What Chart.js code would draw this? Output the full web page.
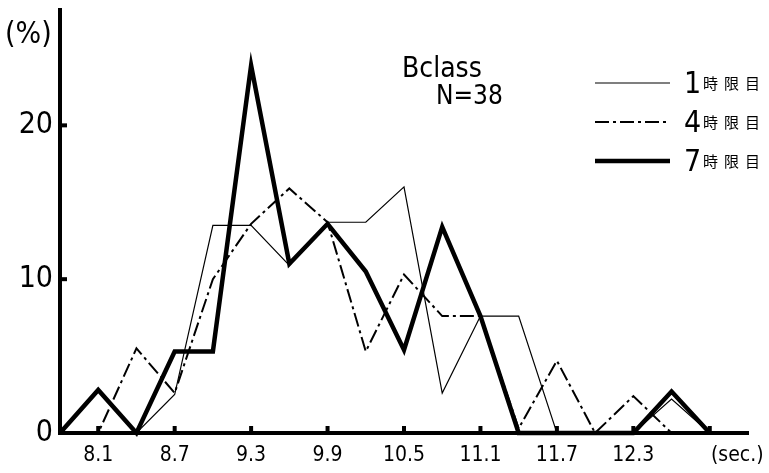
<!DOCTYPE html>
<html>
<head>
<meta charset="utf-8">
<script src="https://cdn.jsdelivr.net/npm/chart.js@4.4.1/dist/chart.umd.min.js"></script>
<style>
  html, body { margin: 0; padding: 0; background: #fff; }
  #wrap { width: 769px; height: 473px; }
</style>
</head>
<body>
<div id="wrap"><canvas id="chart"></canvas></div>
<script>
// seconds (class midpoints, every 0.3 s)
const seconds = [7.8, 8.1, 8.4, 8.7, 9.0, 9.3, 9.6, 9.9, 10.2, 10.5, 10.8, 11.1, 11.4, 11.7, 12.0, 12.3, 12.6, 12.9];

// percent of students per class
const period1 = [0, 0, 0, 2.5, 13.5, 13.5, 10.9, 13.7, 13.7, 16.0, 2.6, 7.6, 7.6, 0, 0, 0, 2.2, 0];
const period4 = [0, 0, 5.5, 2.6, 10.0, 13.6, 15.9, 13.7, 5.3, 10.3, 7.6, 7.6, 0.3, 4.7, 0, 2.4, 0, 0];
const period7 = [0, 2.8, 0, 5.3, 5.3, 23.9, 11.0, 13.6, 10.5, 5.4, 13.4, 7.6, 0, 0, 0, 0, 2.7, 0];

const seriesNames = ['1', '4', '7'];
const xTicks = [8.1, 8.7, 9.3, 9.9, 10.5, 11.1, 11.7, 12.3, 12.9];
const xTickLabels = ['8.1', '8.7', '9.3', '9.9', '10.5', '11.1', '11.7', '12.3', ''];
const yTicks = [0, 10, 20];

const FONT = "'DejaVu Sans Condensed', 'Liberation Sans Narrow', 'Liberation Sans', sans-serif";
const CJK = "'Noto Sans CJK JP', sans-serif";

const styles = [
  { width: 1.2, dash: [] },
  { width: 2, dash: [14, 4, 3, 4] },
  { width: 4.5, dash: [] },
];

function points(values) {
  return seconds.map((s, i) => ({ x: s, y: values[i] }));
}

const datasets = [period1, period4, period7].map((vals, i) => ({
  label: seriesNames[i],
  data: points(vals),
  borderColor: '#000',
  borderWidth: styles[i].width,
  borderDash: styles[i].dash,
  borderJoinStyle: 'miter',
  pointRadius: 0,
  tension: 0,
  clip: false,
}));

const decorations = {
  id: 'decorations',
  afterDraw(chart) {
    const ctx = chart.ctx;
    const xs = chart.scales.x;
    const ys = chart.scales.y;
    const y0 = ys.getPixelForValue(0);
    const x0 = xs.getPixelForValue(7.8);
    ctx.save();
    ctx.fillStyle = '#000';
    ctx.strokeStyle = '#000';

    // small inward tick marks
    xTicks.forEach(v => {
      const px = xs.getPixelForValue(v);
      ctx.fillRect(px - 2, y0 - 7, 4, 7);
    });
    yTicks.slice(1).forEach(v => {
      const py = ys.getPixelForValue(v);
      ctx.fillRect(x0, py - 2, 7, 4);
    });

    // axis units
    ctx.textBaseline = 'middle';
    ctx.textAlign = 'left';
    ctx.font = '30px ' + FONT;
    ctx.fillText('(%)', 5, 35);
    ctx.font = '21px ' + FONT;
    ctx.fillText('(sec.)', 711, 456);

    // title
    ctx.font = '28px ' + FONT;
    ctx.fillText('Bclass', 402, 70);
    ctx.font = '26px ' + FONT;
    ctx.fillText('N=38', 436, 97);

    // legend
    const rows = [83, 122, 161];
    rows.forEach((ry, i) => {
      ctx.beginPath();
      ctx.lineWidth = styles[i].width;
      ctx.setLineDash(styles[i].dash);
      ctx.moveTo(595, ry);
      ctx.lineTo(670, ry);
      ctx.stroke();
      ctx.setLineDash([]);
      ctx.font = '30px ' + FONT;
      ctx.textAlign = 'left';
      ctx.fillText(seriesNames[i], 684, ry + 2);
      ctx.font = '15px ' + CJK;
      ['時', '限', '目'].forEach((c, k) => {
        ctx.fillText(c, 703 + k * 21, ry);
      });
    });
    ctx.restore();
  }
};

new Chart(document.getElementById('chart'), {
  type: 'line',
  data: { datasets },
  options: {
    responsive: true,
    maintainAspectRatio: false,
    animation: false,
    layout: { padding: { top: 10, right: 21, left: 0, bottom: 0 } },
    plugins: { legend: { display: false }, tooltip: { enabled: false } },
    scales: {
      x: {
        type: 'linear',
        min: 7.8,
        max: 13.2,
        afterBuildTicks: s => { s.ticks = xTicks.map(v => ({ value: v })); },
        afterFit: s => { s.height = 40; s.paddingLeft = 0; s.paddingRight = 0; },
        grid: { display: false, drawTicks: false },
        border: { display: true, color: '#000', width: 4 },
        ticks: {
          padding: 10,
          color: '#000',
          font: { family: FONT, size: 21 },
          callback: (v, i) => xTickLabels[i],
          maxRotation: 0,
          autoSkip: false,
        },
      },
      y: {
        min: 0,
        max: 27.5,
        afterBuildTicks: s => { s.ticks = yTicks.map(v => ({ value: v })); },
        afterFit: s => { s.width = 60; s.paddingTop = 0; s.paddingBottom = 0; },
        grid: { display: false, drawTicks: false },
        border: { display: true, color: '#000', width: 4 },
        ticks: {
          padding: 7,
          color: '#000',
          font: { family: FONT, size: 30 },
        },
      },
    },
  },
  plugins: [decorations],
});
</script>
</body>
</html>
